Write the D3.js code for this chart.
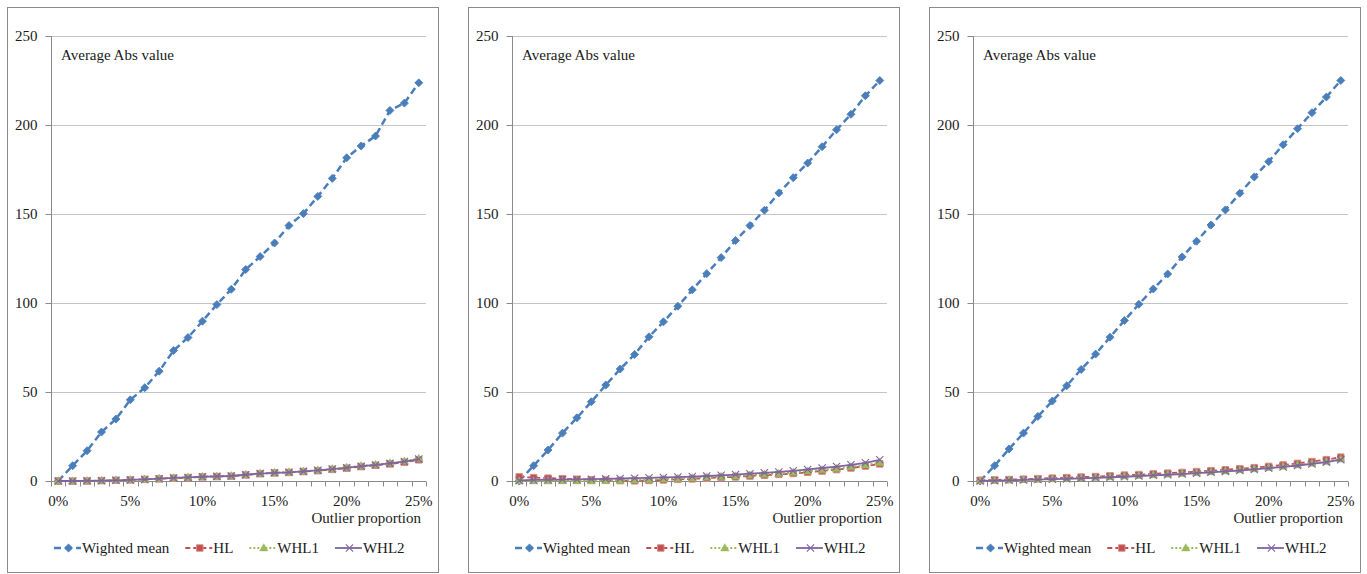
<!DOCTYPE html>
<html>
<head>
<meta charset="utf-8">
<script src="https://cdn.jsdelivr.net/npm/d3@7"></script>
<style>
  html, body { margin: 0; padding: 0; background: #fff; }
  svg text { font-family: "Liberation Serif", "Times New Roman", Times, serif; }
</style>
</head>
<body>
<svg id="chart" width="1367" height="574"></svg>
<script>
// ---------- DATA ----------
const categories = ["0%","1%","2%","3%","4%","5%","6%","7%","8%","9%","10%","11%","12%","13%",
  "14%","15%","16%","17%","18%","19%","20%","21%","22%","23%","24%","25%"];
const xTickLabels = ["0%","5%","10%","15%","20%","25%"];
const yTicks = [0, 50, 100, 150, 200, 250];
const seriesNames = ["Wighted mean", "HL", "WHL1", "WHL2"];

// Panel 1
const p1Weighted = [0, 8.6, 17, 27.5, 34.8, 45.6, 52.4, 61.7, 73.3, 80.6, 89.8, 99.1, 107.7, 118.8,
  126.1, 133.7, 143.5, 150.2, 159.9, 170, 181.6, 188.2, 193.8, 208.2, 212.3, 223.7];
const p1HL = [0, -0.1, 0, 0.2, 0.4, 0.6, 0.9, 1.2, 1.6, 1.9, 2.3, 2.5, 2.7, 3.4, 4.1, 4.5, 4.8,
  5.3, 5.8, 6.5, 7.2, 8.1, 8.8, 9.6, 10.5, 11.9];
const p1WHL1 = [0, 0, 0.1, 0.3, 0.5, 0.7, 1.0, 1.4, 1.8, 2.1, 2.5, 2.7, 2.9, 3.6, 4.3, 4.7, 5.0,
  5.5, 6.1, 6.8, 7.6, 8.5, 9.2, 10.1, 11.1, 12.6];
const p1WHL2 = [0, 0, 0.1, 0.2, 0.4, 0.6, 0.9, 1.3, 1.7, 2.0, 2.4, 2.6, 2.8, 3.5, 4.2, 4.6, 4.9,
  5.4, 6.0, 6.7, 7.4, 8.3, 9.0, 9.9, 10.9, 12.3];

// Panel 2
const p2Weighted = [0, 8.6, 17.4, 26.9, 35.5, 44.5, 53.9, 62.9, 71.1, 81, 89.4, 98.2, 107.4, 116.5,
  125.5, 135.1, 143.5, 152.1, 161.8, 170.4, 178.6, 187.8, 197.3, 206, 216.4, 225];
const p2HL = [2.3, 1.9, 1.6, 1.3, 1.0, 0.7, 0.5, 0.2, 0.1, 0.3, 0.6, 0.9, 1.2, 1.6, 2.0, 2.3, 2.8,
  3.2, 3.7, 4.2, 4.9, 5.6, 6.4, 7.3, 8.4, 9.6];
const p2WHL1 = [0, 0, 0, 0, 0, 0, 0.1, 0.3, 0.5, 0.8, 1.1, 1.4, 1.7, 2.1, 2.5, 2.8, 3.3, 3.7, 4.2,
  4.8, 5.5, 6.2, 7.0, 7.9, 9.0, 10.3];
const p2WHL2 = [0.3, 0.6, 0.7, 0.8, 0.9, 1.0, 1.2, 1.4, 1.6, 1.8, 2.0, 2.2, 2.5, 2.8, 3.2, 3.6, 4.1,
  4.6, 5.1, 5.7, 6.5, 7.3, 8.1, 9.1, 10.2, 11.9];

// Panel 3
const p3Weighted = [0, 8.6, 18, 26.9, 36.3, 44.9, 53.5, 62.7, 71.3, 80.8, 90.2, 99.3, 107.9, 116.3,
  125.9, 134.7, 143.8, 152.3, 161.6, 170.8, 179.4, 188.9, 197.9, 206.9, 215.7, 225];
const p3HL = [0.4, 0.6, 0.8, 1.0, 1.3, 1.6, 1.9, 2.2, 2.5, 2.9, 3.3, 3.6, 4.0, 4.4, 4.8, 5.3, 5.8,
  6.3, 6.9, 7.5, 8.2, 9.0, 9.9, 10.9, 12.0, 13.4];
const p3WHL1 = [0.1, 0.3, 0.5, 0.7, 0.9, 1.2, 1.4, 1.7, 2.0, 2.3, 2.7, 3.0, 3.4, 3.8, 4.2, 4.6, 5.1,
  5.6, 6.2, 6.8, 7.5, 8.2, 9.0, 9.9, 10.9, 12.3];
const p3WHL2 = [0, 0.2, 0.4, 0.6, 0.8, 1.0, 1.2, 1.5, 1.8, 2.1, 2.4, 2.8, 3.2, 3.5, 3.9, 4.4, 4.9,
  5.4, 5.9, 6.5, 7.2, 7.9, 8.7, 9.6, 10.6, 12.0];

const panels = [
  [p1Weighted, p1HL, p1WHL1, p1WHL2],
  [p2Weighted, p2HL, p2WHL1, p2WHL2],
  [p3Weighted, p3HL, p3WHL1, p3WHL2]
];

// ---------- STYLE ----------
const FONT = '"Liberation Serif", "Times New Roman", Times, serif';
const styles = [
  { color: "#4A7EBB", dash: "7,4", width: 2.5, marker: "diamond" },
  { color: "#C0504D", dash: "5,3", width: 1.8, marker: "square" },
  { color: "#9BBB59", dash: "2,2", width: 1.8, marker: "triangle" },
  { color: "#8064A2", dash: null, width: 1.8, marker: "x" }
];

const svg = d3.select("#chart");
svg.append("rect").attr("width", 1367).attr("height", 574).attr("fill", "#fff");

const panelW = 431, panelH = 565, panelTop = 7;
const panelLefts = [7, 468, 929];
const plot = { left: 44, right: 419, top: 29, bottom: 474 };

function drawMarker(g, type, color, x, y) {
  if (type === "diamond") {
    g.append("path").attr("d", d3.symbol().type(d3.symbolSquare).size(32)())
      .attr("transform", `translate(${x},${y}) rotate(45)`)
      .attr("fill", color).attr("stroke", color).attr("stroke-width", 0.8);
  } else if (type === "square") {
    g.append("path").attr("d", d3.symbol().type(d3.symbolSquare).size(42)())
      .attr("transform", `translate(${x},${y})`)
      .attr("fill", color).attr("stroke", "#d98c8a").attr("stroke-width", 1);
  } else if (type === "triangle") {
    g.append("path").attr("d", d3.symbol().type(d3.symbolTriangle).size(30)())
      .attr("transform", `translate(${x},${y + 0.5})`)
      .attr("fill", color).attr("stroke", color).attr("stroke-width", 0.5);
  } else {
    g.append("path").attr("d", d3.symbol().type(d3.symbolX).size(36)())
      .attr("transform", `translate(${x},${y})`)
      .attr("fill", "none").attr("stroke", color).attr("stroke-width", 1.1);
  }
}

panels.forEach((series, pi) => {
  const g = svg.append("g").attr("transform", `translate(${panelLefts[pi]},${panelTop})`);

  g.append("rect").attr("x", 0.5).attr("y", 0.5).attr("width", panelW).attr("height", panelH)
    .attr("fill", "#fff").attr("stroke", "#8a8a8a").attr("stroke-width", 1);

  const x = d3.scaleBand().domain(categories).range([plot.left, plot.right]).padding(0);
  const y = d3.scaleLinear().domain([0, 250]).range([plot.bottom, plot.top]);
  const cx = c => x(c) + x.bandwidth() / 2;

  // gridlines
  g.append("g").selectAll("line").data(yTicks.filter(t => t > 0)).join("line")
    .attr("x1", plot.left).attr("x2", plot.right)
    .attr("y1", d => Math.round(y(d)) + 0.5).attr("y2", d => Math.round(y(d)) + 0.5)
    .attr("stroke", "#c4c4c4").attr("stroke-width", 1);

  // y axis
  const yAxis = g.append("g").attr("transform", `translate(${plot.left + 0.5},0)`)
    .call(d3.axisLeft(y).tickValues(yTicks).tickSize(6).tickPadding(8).tickFormat(d3.format("d")));
  yAxis.attr("font-family", FONT);
  yAxis.select(".domain").attr("stroke", "#8a8a8a").attr("d", `M0,${plot.top}V${plot.bottom}`);
  yAxis.selectAll(".tick line").attr("stroke", "#8a8a8a");
  yAxis.selectAll(".tick text").attr("font-size", 15).attr("fill", "#1a1a1a");

  // x axis
  const xAxis = g.append("g").attr("transform", `translate(0,${Math.round(plot.bottom) + 0.5})`)
    .call(d3.axisBottom(x).tickValues(xTickLabels).tickSize(0).tickPadding(14));
  xAxis.attr("font-family", FONT);
  xAxis.select(".domain").attr("stroke", "#8a8a8a").attr("d", `M${plot.left},0H${plot.right}`);
  xAxis.selectAll(".tick text").attr("font-size", 15).attr("fill", "#1a1a1a");
  // category boundary tick marks
  const bounds = categories.map(c => x(c)).concat([x(categories[categories.length - 1]) + x.bandwidth()]);
  xAxis.append("g").selectAll("line").data(bounds).join("line")
    .attr("x1", d => Math.round(d) + 0.5).attr("x2", d => Math.round(d) + 0.5)
    .attr("y1", 0).attr("y2", 5).attr("stroke", "#8a8a8a");

  // series
  const line = d3.line().x((d, i) => cx(categories[i])).y(d => y(d));
  series.forEach((vals, si) => {
    const st = styles[si];
    const sg = g.append("g");
    const p = sg.append("path").datum(vals).attr("d", line)
      .attr("fill", "none").attr("stroke", st.color).attr("stroke-width", st.width)
      .attr("stroke-linejoin", "round");
    if (st.dash) p.attr("stroke-dasharray", st.dash);
    vals.forEach((v, i) => drawMarker(sg, st.marker, st.color, cx(categories[i]), y(v)));
  });

  // texts
  g.append("text").attr("x", 54).attr("y", 53).attr("font-size", 15).attr("fill", "#1a1a1a")
    .attr("font-family", FONT).text("Average Abs value");
  g.append("text").attr("x", plot.right - 5).attr("y", 516).attr("text-anchor", "end")
    .attr("font-size", 15).attr("fill", "#1a1a1a").attr("font-family", FONT).text("Outlier proportion");

  // legend
  const lg = g.append("g").attr("transform", "translate(0,541)");
  let lx = 47;
  seriesNames.forEach((name, si) => {
    const st = styles[si];
    const sw = 27;
    const l = lg.append("line").attr("x1", lx).attr("x2", lx + sw).attr("y1", 0).attr("y2", 0)
      .attr("stroke", st.color).attr("stroke-width", st.width);
    if (st.dash) l.attr("stroke-dasharray", st.dash);
    drawMarker(lg, st.marker, st.color, lx + sw / 2 + 1, 0);
    const t = lg.append("text").attr("x", lx + sw + 1).attr("y", 5).attr("font-size", 15)
      .attr("fill", "#1a1a1a").attr("font-family", FONT).text(name);
    lx += sw + 1 + t.node().getComputedTextLength() + 16;
  });
});
</script>
</body>
</html>
